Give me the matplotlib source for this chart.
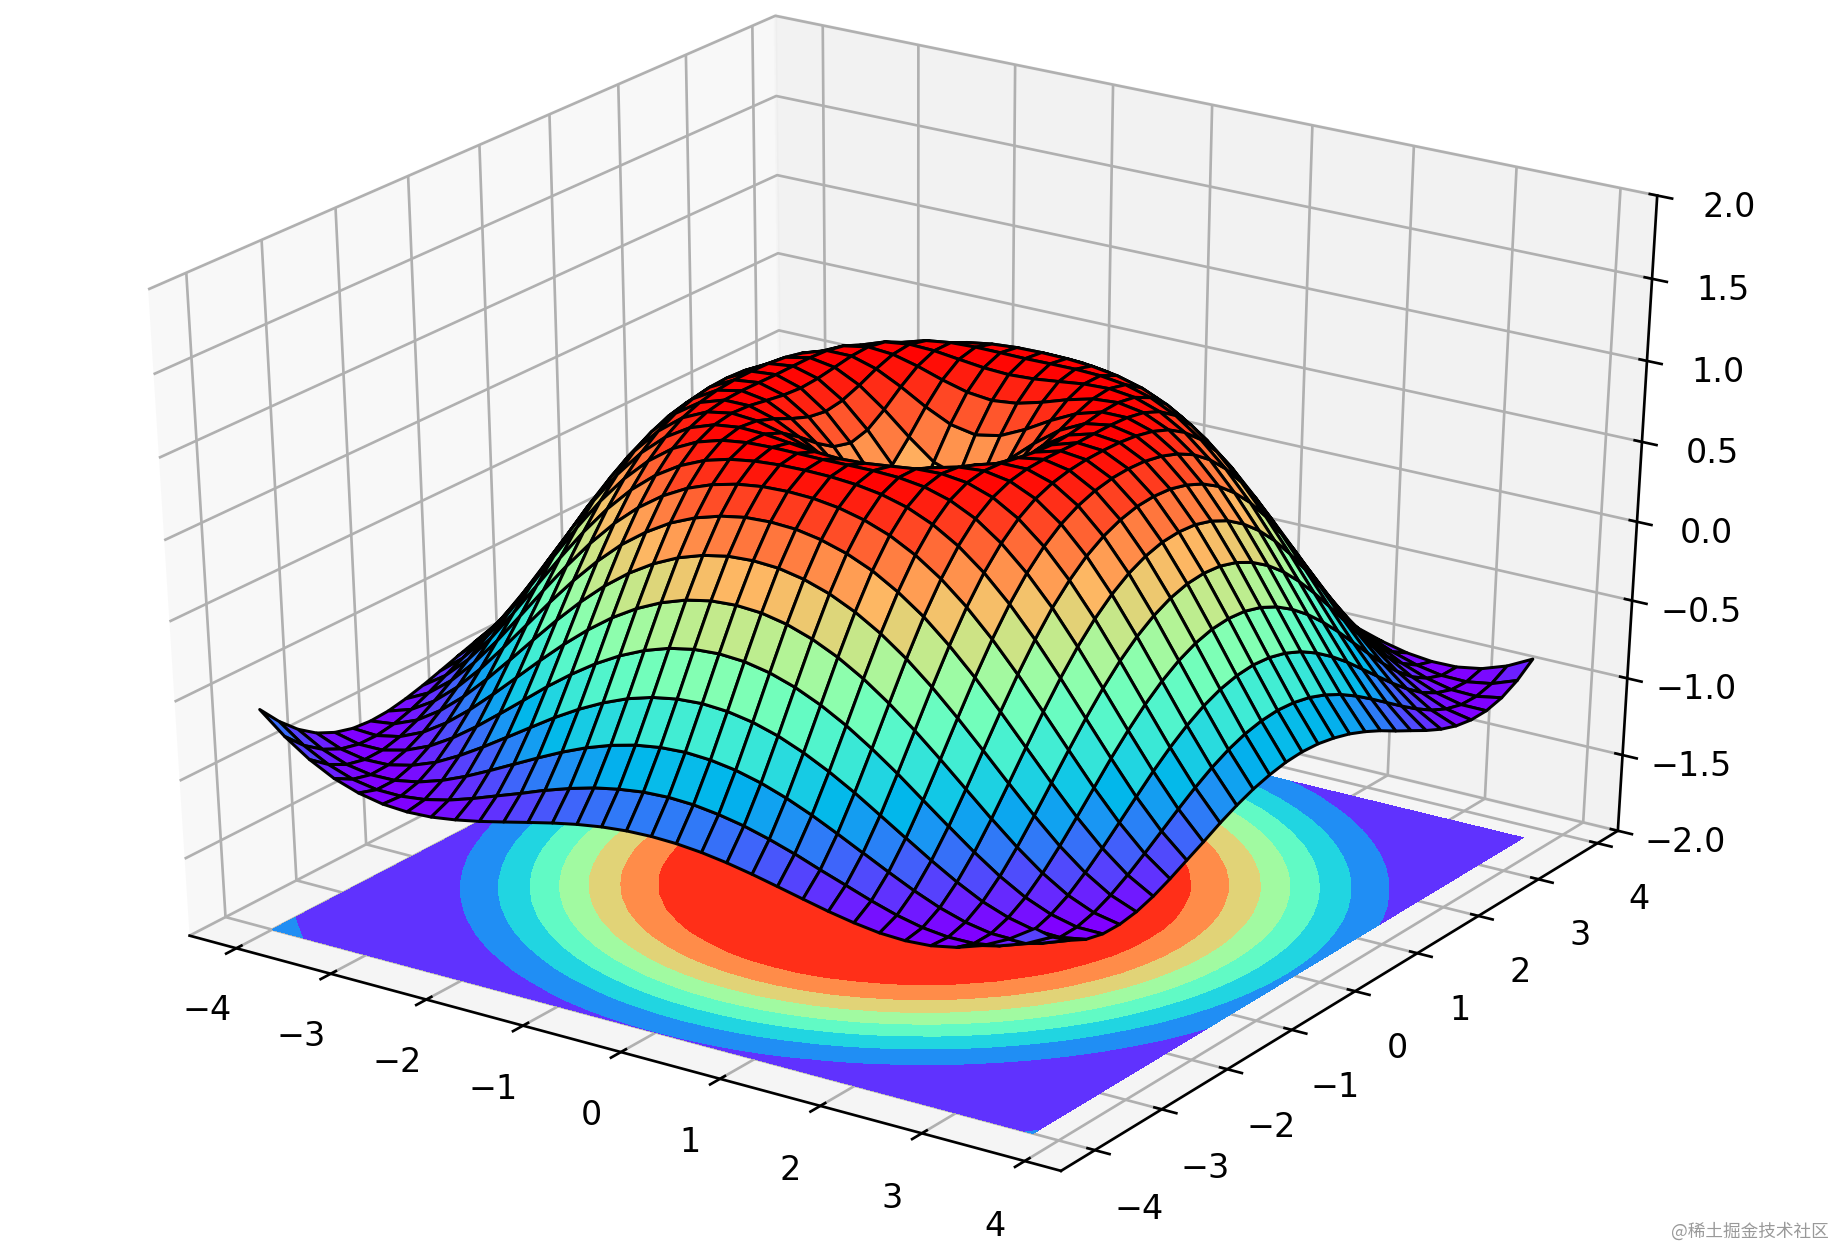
import numpy as np
import matplotlib
matplotlib.use('Agg')
import matplotlib.pyplot as plt

# Grid of the surface
x_values = [-4.0, -3.75, -3.5, -3.25, -3.0, -2.75, -2.5, -2.25, -2.0, -1.75, -1.5, -1.25, -1.0, -0.75, -0.5, -0.25,
            0.0, 0.25, 0.5, 0.75, 1.0, 1.25, 1.5, 1.75, 2.0, 2.25, 2.5, 2.75, 3.0, 3.25, 3.5, 3.75]
y_values = list(x_values)

# Surface heights, one quadrant: row i, column j >= i, in steps of 0.25 from the middle
height_rows = [
    [0, .247, .479, .682, .841, .949, .997, .984, .909, .778, .598, .382, .141, -.108, -.351, -.572, -.757],
    [.346, .530, .711, .858, .957, .999, .981, .903, .770, .589, .372, .131, -.118, -.360, -.579, -.762],
    [.650, .784, .899, .975, 1.0, .969, .882, .742, .558, .340, .100, -.146, -.384, -.600, -.777],
    [.873, .949, .994, .994, .945, .844, .696, .507, .287, .049, -.192, -.424, -.631, -.801],
    [.988, 1.0, .973, .903, .787, .629, .434, .214, -.021, -.256, -.478, -.674, -.832],
    [.981, .928, .836, .705, .537, .340, .121, -.108, -.334, -.544, -.725, -.868],
    [.853, .742, .598, .425, .225, .009, -.211, -.424, -.619, -.784, -.905],
    [.618, .465, .287, .090, -.118, -.325, -.524, -.698, -.839, -.941],
    [.308, .131, -.060, -.256, -.449, -.625, -.777, -.895, -.971],
    [-.040, -.220, -.400, -.572, -.725, -.852, -.944, -.993],
    [-.384, -.544, -.692, -.818, -.917, -.980, -1.0],
    [-.680, -.801, -.899, -.966, -.998, -.990],
    [-.892, -.957, -.995, -.996, -.959],
    [-.993, -.998, -.969, -.906],
    [-.972, -.914, -.825],
    [-.832, -.718],
    [-.586],
]

x_ticks = [-4, -3, -2, -1, 0, 1, 2, 3, 4]
y_ticks = [-4, -3, -2, -1, 0, 1, 2, 3, 4]
z_ticks = [-2.0, -1.5, -1.0, -0.5, 0.0, 0.5, 1.0, 1.5, 2.0]

# Fill the whole grid from the quadrant table
Z = np.zeros((len(y_values), len(x_values)))
for r, yv in enumerate(y_values):
    for c, xv in enumerate(x_values):
        i, j = sorted((int(abs(yv) * 4), int(abs(xv) * 4)))
        Z[r, c] = height_rows[i][j - i]
X, Y = np.meshgrid(x_values, y_values)

fig = plt.figure(figsize=(7.65, 5.2), dpi=240)
ax = fig.add_axes([0.0, 0.031, 0.968, 0.996], projection='3d')

# Old style 3D axes: cube stretched over the whole figure
ax.apply_aspect = lambda position=None: None
ax.set_box_aspect((1, 1, 1), zoom=1.0)
ax.view_init(elev=30, azim=-56)

ax.plot_surface(X, Y, Z, rstride=1, cstride=1, cmap='rainbow', edgecolor='black', linewidth=0.9)
ax.contourf(X, Y, Z, zdir='z', offset=-2, cmap='rainbow')

ax.set_xlim(-4.5, 4.35)
ax.set_ylim(-4.5, 4.35)
ax.set_zlim(-2, 2)
ax.set_xticks(x_ticks)
ax.set_yticks(y_ticks)
ax.set_zticks(z_ticks)

# Watermark in the corner
fig.text(0.996, 0.006, '@稀土掘金技术社区', ha='right', va='bottom', fontsize=5.3, color='#999999',
         family=['Noto Sans CJK SC', 'DejaVu Sans'])

fig.savefig('out.png', dpi=240)
